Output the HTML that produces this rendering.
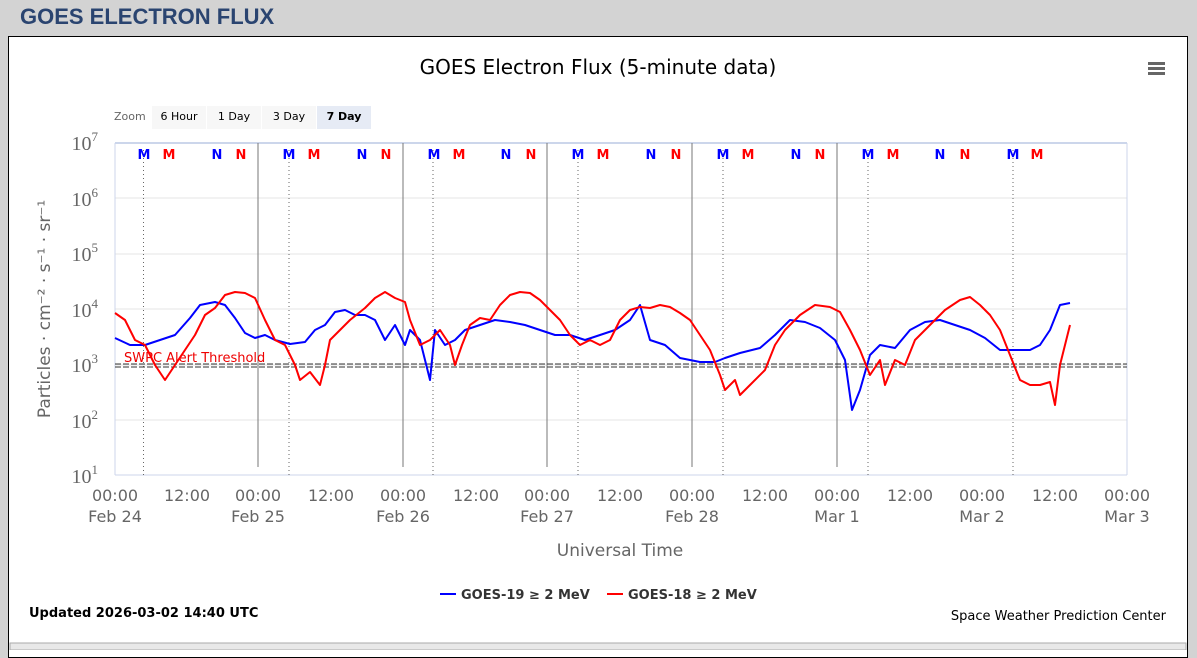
<!DOCTYPE html>
<html><head><meta charset="utf-8"><style>
body{margin:0;width:1197px;height:650px;background:#d3d3d3;font-family:"DejaVu Sans","Liberation Sans",sans-serif;overflow:hidden;position:relative}
.h{position:absolute;left:20px;top:4px;font:bold 22px "Liberation Sans",sans-serif;color:#2a4470}
.box{position:absolute;left:8px;top:36px;width:1178px;height:620px;background:#fff;border:1px solid #000}
</style></head><body>
<div class="h">GOES ELECTRON FLUX</div>
<div class="box"></div>
<svg width="1197" height="650" style="position:absolute;left:0;top:0" font-family="DejaVu Sans, Liberation Sans, sans-serif">
<text x="598" y="74" font-size="20" text-anchor="middle" fill="#000">GOES Electron Flux (5-minute data)</text>
<g fill="#666"><rect x="1148" y="62" width="17" height="3"/><rect x="1148" y="67" width="17" height="3"/><rect x="1148" y="72" width="17" height="3"/></g>
<text x="114" y="120" font-size="11" fill="#666">Zoom</text>
<rect x="152" y="106" width="54" height="23" fill="#f7f7f7"/><text x="179" y="120" font-size="11" text-anchor="middle">6 Hour</text>
<rect x="207" y="106" width="54" height="23" fill="#f7f7f7"/><text x="234" y="120" font-size="11" text-anchor="middle">1 Day</text>
<rect x="262" y="106" width="54" height="23" fill="#f7f7f7"/><text x="289" y="120" font-size="11" text-anchor="middle">3 Day</text>
<rect x="317" y="106" width="54" height="23" fill="#e6ebf5"/><text x="344" y="120" font-size="11" text-anchor="middle" font-weight="bold">7 Day</text>
<g stroke="#e6e6e6"><line x1="115" x2="1127" y1="198" y2="198"/><line x1="115" x2="1127" y1="254" y2="254"/><line x1="115" x2="1127" y1="309" y2="309"/><line x1="115" x2="1127" y1="365" y2="365"/><line x1="115" x2="1127" y1="420" y2="420"/></g>
<line x1="115" x2="1127" y1="143" y2="143" stroke="#ccd6eb" stroke-width="2"/>
<line x1="115" x2="1127" y1="475" y2="475" stroke="#ccd6eb"/>
<line x1="1127" x2="1127" y1="143" y2="475" stroke="#ccd6eb"/>
<line x1="115" x2="115" y1="143" y2="475" stroke="#ccd6eb"/>
<g stroke="#777"><line x1="258" x2="258" y1="143" y2="467"/><line x1="403" x2="403" y1="143" y2="467"/><line x1="547" x2="547" y1="143" y2="467"/><line x1="692" x2="692" y1="143" y2="467"/><line x1="837" x2="837" y1="143" y2="467"/></g>
<g stroke="#666" stroke-dasharray="1,3"><line x1="143.5" x2="143.5" y1="150" y2="475"/><line x1="289" x2="289" y1="150" y2="475"/><line x1="433" x2="433" y1="150" y2="475"/><line x1="578" x2="578" y1="150" y2="475"/><line x1="723" x2="723" y1="150" y2="475"/><line x1="868" x2="868" y1="150" y2="475"/><line x1="1013" x2="1013" y1="150" y2="475"/></g>
<g font-size="13" font-weight="bold" text-anchor="middle">
<g fill="#00f"><text x="144" y="159">M</text><text x="217" y="159">N</text><text x="289" y="159">M</text><text x="362" y="159">N</text><text x="434" y="159">M</text><text x="506" y="159">N</text><text x="578" y="159">M</text><text x="651" y="159">N</text><text x="723" y="159">M</text><text x="796" y="159">N</text><text x="868" y="159">M</text><text x="940" y="159">N</text><text x="1013" y="159">M</text></g>
<g fill="#f00"><text x="169" y="159">M</text><text x="241" y="159">N</text><text x="314" y="159">M</text><text x="386" y="159">N</text><text x="459" y="159">M</text><text x="531" y="159">N</text><text x="603" y="159">M</text><text x="676" y="159">N</text><text x="748" y="159">M</text><text x="820" y="159">N</text><text x="893" y="159">M</text><text x="965" y="159">N</text><text x="1037" y="159">M</text></g></g>
<g font-family="Liberation Serif, serif" fill="#666" font-size="20" text-anchor="end">
<text x="98" y="150">10<tspan font-size="13" dy="-9">7</tspan></text><text x="98" y="206">10<tspan font-size="13" dy="-9">6</tspan></text><text x="98" y="261">10<tspan font-size="13" dy="-9">5</tspan></text><text x="98" y="317">10<tspan font-size="13" dy="-9">4</tspan></text><text x="98" y="372">10<tspan font-size="13" dy="-9">3</tspan></text><text x="98" y="428">10<tspan font-size="13" dy="-9">2</tspan></text><text x="98" y="483">10<tspan font-size="13" dy="-9">1</tspan></text></g>
<text transform="translate(50,309) rotate(-90)" font-size="17" fill="#666" text-anchor="middle">Particles · cm⁻² · s⁻¹ · sr⁻¹</text>
<g font-size="16" fill="#666" text-anchor="middle">
<text x="115" y="501">00:00</text><text x="115" y="522">Feb 24</text><text x="187" y="501">12:00</text>
<text x="258" y="501">00:00</text><text x="258" y="522">Feb 25</text><text x="331" y="501">12:00</text>
<text x="403" y="501">00:00</text><text x="403" y="522">Feb 26</text><text x="476" y="501">12:00</text>
<text x="547" y="501">00:00</text><text x="547" y="522">Feb 27</text><text x="620" y="501">12:00</text>
<text x="692" y="501">00:00</text><text x="692" y="522">Feb 28</text><text x="765" y="501">12:00</text>
<text x="837" y="501">00:00</text><text x="837" y="522">Mar 1</text><text x="910" y="501">12:00</text>
<text x="982" y="501">00:00</text><text x="982" y="522">Mar 2</text><text x="1055" y="501">12:00</text>
<text x="1127" y="501">00:00</text><text x="1127" y="522">Mar 3</text>
<text x="620" y="556" font-size="17">Universal Time</text></g>
<line x1="115" x2="1127" y1="364" y2="364" stroke="#333" stroke-dasharray="6,2"/>
<line x1="115" x2="1127" y1="367" y2="367" stroke="#333" stroke-dasharray="6,2"/>
<text x="124" y="362" font-size="13" fill="#e00">SWPC Alert Threshold</text>
<polyline fill="none" stroke="#00f" stroke-width="2" stroke-linejoin="round" points="115,338 130,345 145,345 160,340 175,335 190,318 200,305 215,302 225,305 235,318 245,333 255,338 265,335 275,340 290,344 305,342 315,330 325,325 335,312 345,310 355,315 365,315 375,320 385,340 395,325 405,345 410,330 420,340 425,360 430,380 435,330 445,345 455,340 465,330 480,325 495,320 510,322 525,325 540,330 555,335 570,335 585,340 600,335 615,330 630,320 640,305 650,340 665,345 680,358 700,362 715,362 725,358 740,353 760,348 775,335 790,320 805,322 820,328 835,340 845,360 852,410 860,390 870,355 880,345 895,348 910,330 925,322 940,320 955,325 970,330 985,338 1000,350 1015,350 1030,350 1040,345 1050,330 1060,305 1070,303"/>
<polyline fill="none" stroke="#f00" stroke-width="2" stroke-linejoin="round" points="115,313 125,320 135,340 145,345 155,365 165,380 175,365 185,350 195,335 205,315 215,308 225,295 235,292 245,293 255,298 265,320 275,340 285,345 295,365 300,380 310,372 320,385 325,365 330,340 340,330 350,320 365,308 375,298 385,292 395,298 405,302 410,320 420,345 430,340 440,330 450,345 455,365 462,345 470,325 480,318 490,320 500,305 510,295 520,292 530,293 540,300 550,310 560,320 570,335 580,345 590,340 600,345 610,340 620,320 630,310 640,307 650,308 660,305 670,307 680,313 690,320 700,335 710,350 720,375 725,390 735,380 740,395 750,385 765,370 775,345 785,330 800,315 815,305 830,307 840,312 850,330 860,350 870,375 880,360 885,385 895,360 905,365 915,340 930,325 945,310 960,300 970,297 980,305 990,315 1000,330 1010,355 1020,380 1030,385 1040,385 1050,382 1055,405 1060,365 1065,345 1070,325"/>
<line x1="440" x2="456" y1="594" y2="594" stroke="#00f" stroke-width="2"/><text x="461" y="599" font-size="13" font-weight="bold" fill="#333">GOES-19 ≥ 2 MeV</text>
<line x1="607" x2="623" y1="594" y2="594" stroke="#f00" stroke-width="2"/><text x="628" y="599" font-size="13" font-weight="bold" fill="#333">GOES-18 ≥ 2 MeV</text>
<text x="29" y="617" font-size="13" font-weight="bold">Updated 2026-03-02 14:40 UTC</text>
<text x="1166" y="620" font-size="13" text-anchor="end">Space Weather Prediction Center</text>
<rect x="10" y="643" width="1176" height="7" fill="#e8e8e8" stroke="#aaa"/>
</svg>
</body></html>
